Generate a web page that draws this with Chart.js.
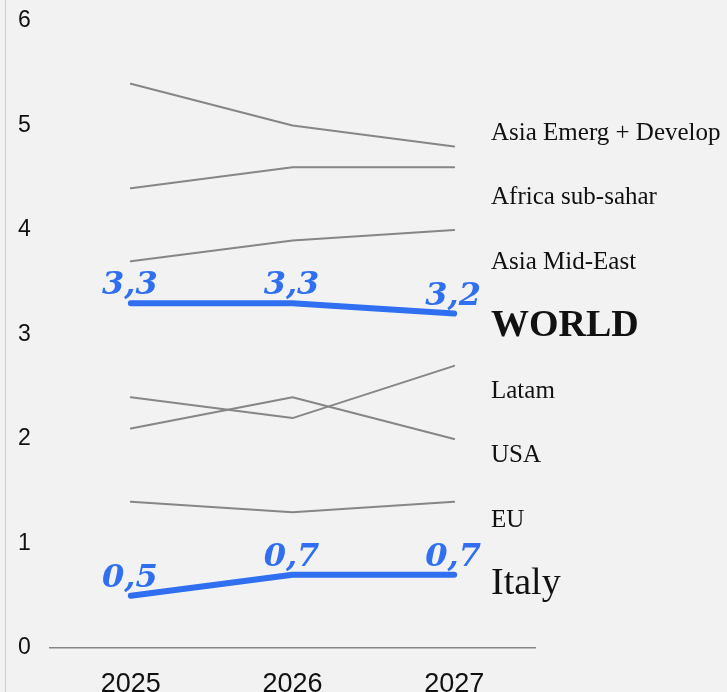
<!DOCTYPE html>
<html>
<head>
<meta charset="utf-8">
<script src="https://cdn.jsdelivr.net/npm/chart.js@4.4.1/dist/chart.umd.min.js"></script>
<style>
  html, body { margin: 0; padding: 0; background: #f2f2f2; }
  #wrap { width: 727px; height: 692px; }
</style>
</head>
<body>
<div id="wrap"><canvas id="growthChart" width="727" height="692"></canvas></div>
<script>
// Years on the x axis
const years = ["2025", "2026", "2027"];

// Series values (GDP growth, %)
const asiaEmerg = [5.4, 5.0, 4.8];
const africaSubSahar = [4.4, 4.6, 4.6];
const asiaMidEast = [3.7, 3.9, 4.0];
const world = [3.3, 3.3, 3.2];
const latam = [2.4, 2.2, 2.7];
const usa = [2.1, 2.4, 2.0];
const eu = [1.4, 1.3, 1.4];
const italy = [0.5, 0.7, 0.7];

// Right-side series names, top to bottom
const seriesNames = ["Asia Emerg + Develop", "Africa sub-sahar", "Asia Mid-East", "WORLD", "Latam", "USA", "EU", "Italy"];
const seriesValues = [asiaEmerg, africaSubSahar, asiaMidEast, world, latam, usa, eu, italy];
const highlighted = ["WORLD", "Italy"];

const yTicks = [0, 1, 2, 3, 4, 5, 6];

const GREY = "#868686";
const BLUE = "#2f6ff0";

const datasets = seriesNames.map((name, i) => {
    const hi = highlighted.includes(name);
    return {
        label: name,
        data: seriesValues[i],
        borderColor: hi ? BLUE : GREY,
        borderWidth: hi ? 6 : 2,
        borderCapStyle: "round",
        borderJoinStyle: "round",
        pointRadius: 0,
        tension: 0,
        clip: false,
        order: hi ? 0 : 1,
        highlight: hi,
    };
});

// Format values with a comma decimal
const fmt = (v) => v.toFixed(1).replace(".", ",");

// Draws value labels on highlighted lines, series names on the right, left rule
const labelPlugin = {
    id: "labelPlugin",
    afterDatasetsDraw(chart) {
        const ctx = chart.ctx;
        const area = chart.chartArea;
        ctx.save();

        // thin page rule on the left
        ctx.strokeStyle = "#cfcfcf";
        ctx.lineWidth = 1;
        ctx.beginPath();
        ctx.moveTo(5.5, 0);
        ctx.lineTo(5.5, chart.height);
        ctx.stroke();

        // value labels above the blue lines
        ctx.fillStyle = BLUE;
        ctx.textAlign = "center";
        ctx.textBaseline = "alphabetic";
        ctx.font = "italic bold 32px 'DejaVu Serif', serif";
        chart.data.datasets.forEach((ds, di) => {
            if (!ds.highlight) return;
            const meta = chart.getDatasetMeta(di);
            meta.data.forEach((pt, i) => {
                ctx.fillText(fmt(ds.data[i]), pt.x - 1, pt.y - 9);
            });
        });

        // series names on the right, evenly spaced
        ctx.fillStyle = "#111";
        ctx.textAlign = "left";
        ctx.textBaseline = "middle";
        const x = area.right - 44;
        const start = area.top + 112;
        const step = 64.5;
        seriesNames.forEach((name, i) => {
            if (name === "WORLD") ctx.font = "bold 38px 'Liberation Serif', serif";
            else if (name === "Italy") ctx.font = "38px 'Liberation Serif', serif";
            else ctx.font = "25px 'Liberation Serif', serif";
            ctx.fillText(name, x, start + step * i);
        });
        ctx.restore();
    },
};

new Chart(document.getElementById("growthChart"), {
    type: "line",
    data: { labels: years, datasets: datasets },
    options: {
        responsive: false,
        animation: false,
        layout: { padding: { left: 18, right: 192, top: 21, bottom: 0 } },
        plugins: {
            legend: { display: false },
            tooltip: { enabled: false },
        },
        scales: {
            x: {
                offset: true,
                grid: { display: false, drawTicks: false },
                border: { display: true, color: GREY, width: 1.5 },
                afterFit: (scale) => { scale.height = 44; },
                ticks: {
                    color: "#111",
                    padding: 20,
                    font: { family: "'Liberation Sans', Arial, sans-serif", size: 27 },
                },
            },
            y: {
                min: 0,
                max: 6,
                afterBuildTicks: (scale) => {
                    scale.ticks = yTicks.map((v) => ({ value: v }));
                },
                afterFit: (scale) => { scale.width = 32; },
                grid: { display: false, drawTicks: false },
                border: { display: false },
                ticks: {
                    color: "#111",
                    padding: 0,
                    crossAlign: "far",
                    font: { family: "'Liberation Sans', Arial, sans-serif", size: 23 },
                },
            },
        },
    },
    plugins: [labelPlugin],
});
</script>
</body>
</html>
